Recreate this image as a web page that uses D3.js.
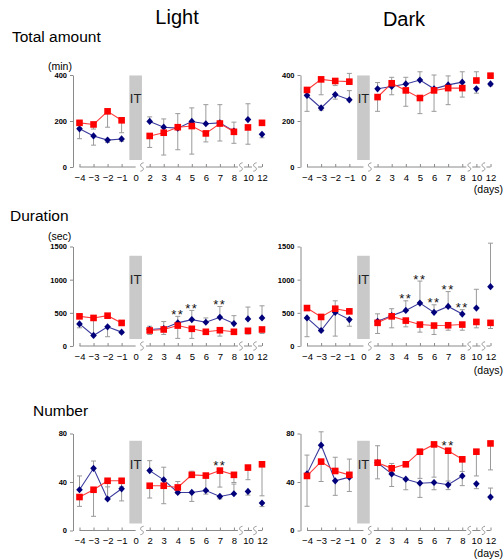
<!DOCTYPE html>
<html><head><meta charset="utf-8">
<script src="https://cdn.jsdelivr.net/npm/d3@7/dist/d3.min.js"></script>
<style>
body{margin:0;background:#fff}
svg{display:block}
text{font-family:"Liberation Sans",Arial,sans-serif}
</style>
</head><body>
<svg id="c" width="504" height="560"></svg>
<script>
// ---------- DATA ----------
const axisDays = ["-4","-3","-2","-1","0","2","3","4","5","6","7","8","10","12"];
const axisLabels = ["\u22124","\u22123","\u22122","\u22121","0","2","3","4","5","6","7","8","10","12"];
const dataDays = ["-4","-3","-2","-1","2","3","4","5","6","7","8","10","12"];
const connectedRuns = [["-4","-3","-2","-1"],["2","3","4","5","6","7","8"]];

const totalTicks = [0,200,400];
const durationTicks = [0,500,1000,1500];
const numberTicks = [0,40,80];

// Total amount (min)
const lightTotalBlue   = [166,135,117,122,198,173,169,198,188,192,156,206,142];
const lightTotalRed    = [192,185,242,203,135,149,173,178,146,189,153,172,192];
const lightTotalBlueSD = [-43,-40,-10,-10,20,36,63,59,83,79,39,69,-15];
const lightTotalRedSD  = [-20,-20,-69,-54,-50,-97,-98,-122,-37,-76,-50,-73,10];

const darkTotalBlue   = [311,257,315,292,340,350,361,378,340,357,369,340,361];
const darkTotalRed    = [335,381,374,371,304,364,333,300,333,343,343,376,397];
const darkTotalBlueSD = [-69,-10,-20,40,27,-36,29,36,60,39,45,-19,-8];
const darkTotalRedSD  = [-20,-67,-20,36,-62,26,-69,-68,-91,-72,-39,38,10];

// Duration (sec)
const lightDurBlue   = [333,159,289,209,249,264,349,398,358,433,338,408,423];
const lightDurRed    = [447,423,457,348,234,249,308,259,214,238,214,229,249];
const lightDurBlueSD = [-59,250,-149,-20,49,104,98,139,65,163,119,179,183];
const lightDurRedSD  = [25,-20,-20,-40,-60,-75,-193,-144,-40,-89,-40,-50,-60];

const darkDurBlue   = [423,234,507,398,373,457,537,647,507,596,482,572,894];
const darkDurRed    = [572,438,562,522,349,447,383,323,308,313,323,363,349];
const darkDurBlueSD = [-283,-20,-358,-100,112,105,144,332,114,224,65,283,656];
const darkDurRedSD  = [20,-200,119,40,-160,-173,-94,-114,-134,-75,-85,-89,-85];

// Number
const lightNumBlue   = [33.6,51.3,26,34.4,49.4,41.8,31.4,31.4,33,28.1,30.3,32.2,22.7];
const lightNumRed    = [27.6,33.6,41,41,36.9,36.9,35.5,45.9,45.3,49.4,45.9,51.9,54.6];
const lightNumBlueSD = [11.4,6,10,-10,8.2,10.4,-1,-7.4,-3,-2,8,-3,-3];
const lightNumRedSD  = [-7.7,-21.9,-14,-5,-10.1,-14.8,4.9,3,-12,-13.6,-6.3,-10,-26];

const darkNumBlue   = [46.7,70.4,41,44,55.9,46.7,42.3,39,39.6,37.7,45,38.5,27.6];
const darkNumRed    = [45,56.8,49.1,45.9,55.9,51.3,54.6,65,71,65.8,58.7,65,71.8];
const darkNumBlueSD = [15.5,11,-12,-11.8,-13.3,-10.4,-8.7,-11.7,-6,-4,-8,-4,7.4];
const darkNumRedSD  = [-25,-16.4,11.3,13,14,4,2,-22,-27,-25,-10,-20,-21.8];

const lightDurStars = ["4","5","7"];
const darkDurStars  = ["4","5","6","7","8"];
const lightNumStars = ["7"];
const darkNumStars  = ["7"];

// ---------- LAYOUT ----------
const svg = d3.select("#c");
const cols = [
  {x0:79.5, x1:262, yAxisX:73},
  {x0:307, x1:490.5, yAxisX:300.5}
];
const rows = [
  {y0:167, yTop:75, max:400, ticks:totalTicks, barTop:398, unit:"(min)", unitY:70, daysY:193},
  {y0:346, yTop:246.5, max:1500, ticks:durationTicks, barTop:1360, unit:"(sec)", unitY:240, daysY:374},
  {y0:530.5, yTop:433.5, max:80, ticks:numberTicks, barTop:74, unit:null, unitY:0, daysY:557}
];

const panels = [
  {c:0,r:0,blue:lightTotalBlue,red:lightTotalRed,bsd:lightTotalBlueSD,rsd:lightTotalRedSD,stars:[]},
  {c:1,r:0,blue:darkTotalBlue,red:darkTotalRed,bsd:darkTotalBlueSD,rsd:darkTotalRedSD,stars:[]},
  {c:0,r:1,blue:lightDurBlue,red:lightDurRed,bsd:lightDurBlueSD,rsd:lightDurRedSD,stars:lightDurStars},
  {c:1,r:1,blue:darkDurBlue,red:darkDurRed,bsd:darkDurBlueSD,rsd:darkDurRedSD,stars:darkDurStars},
  {c:0,r:2,blue:lightNumBlue,red:lightNumRed,bsd:lightNumBlueSD,rsd:lightNumRedSD,stars:lightNumStars},
  {c:1,r:2,blue:darkNumBlue,red:darkNumRed,bsd:darkNumBlueSD,rsd:darkNumRedSD,stars:darkNumStars}
];

const BLUE = "#00007a", BLUE_LINE = "#3b3b9e", RED = "#ff0000", RED_LINE = "#ff3b3b";
const AXIS = "#8a8a8a", ERR = "#9a9a9a";

// Titles
svg.append("text").attr("x",177).attr("y",23.5).attr("text-anchor","middle").attr("font-size",20).text("Light");
svg.append("text").attr("x",404).attr("y",26).attr("text-anchor","middle").attr("font-size",20).text("Dark");
svg.append("text").attr("x",12).attr("y",42).attr("font-size",15.5).text("Total amount");
svg.append("text").attr("x",10).attr("y",221).attr("font-size",15.5).text("Duration");
svg.append("text").attr("x",33).attr("y",416).attr("font-size",15.5).text("Number");

const breakPath = "M1.6,-4.2 C-2.6,-3.6 -1.6,-0.4 0,0 C1.6,0.4 2.6,3.6 -1.6,4.2";

panels.forEach(p => {
  const col = cols[p.c], row = rows[p.r];
  const g = svg.append("g");
  const x = d3.scalePoint().domain(axisDays).range([col.x0, col.x1]);
  const step = x.step();
  const y = d3.scaleLinear().domain([0,row.max]).range([row.y0,row.yTop]);

  // IT bar
  g.append("rect").attr("x",x("0")-6.3).attr("width",12.6)
    .attr("y",y(row.barTop)).attr("height",(row.y0-7)-y(row.barTop))
    .attr("fill","#c9c9c9");
  g.append("text").attr("x",x("0")).attr("y",y(row.barTop)+28).attr("text-anchor","middle")
    .attr("font-size",13).attr("fill","#222").text("IT");

  // Y axis
  const ya = g.append("g").attr("transform",`translate(${col.yAxisX},0)`)
    .call(d3.axisLeft(y).tickValues(row.ticks).tickFormat(d3.format("d"))
      .tickSizeInner(3).tickSizeOuter(0).tickPadding(3));
  ya.select(".domain").attr("stroke",AXIS);
  ya.selectAll(".tick line").attr("stroke",AXIS);
  ya.selectAll(".tick text").attr("font-size",7.5).attr("font-weight","bold").attr("fill","#000")
    .attr("font-family","'Liberation Sans',Arial,sans-serif");

  // X axis (ticks + labels), line drawn in broken segments
  const xa = g.append("g").attr("transform",`translate(0,${row.y0})`)
    .call(d3.axisBottom(x).tickSizeInner(-3).tickSizeOuter(0).tickPadding(6.8)
      .tickFormat((d,i)=>axisLabels[i]));
  xa.select(".domain").remove();
  xa.selectAll(".tick line").attr("stroke",AXIS).attr("opacity",d=>d==="0"?0:1);
  xa.selectAll(".tick text").attr("font-size",9.5).attr("fill","#000")
    .attr("font-family","'Liberation Sans',Arial,sans-serif");

  const b1 = x("0")+step*0.45, b2 = x("8")+step*0.5, b3 = x("10")+step*0.5;
  const segs = [[x("-4"),x("0")],[b1+4,b2-3],[b2+3,b3-3],[b3+3,x("12")]];
  segs.forEach(s=>{
    g.append("line").attr("x1",s[0]).attr("x2",s[1]).attr("y1",row.y0).attr("y2",row.y0)
      .attr("stroke",AXIS).attr("stroke-width",1);
  });
  [b1,b2,b3].forEach(bx=>{
    g.append("path").attr("d",breakPath).attr("transform",`translate(${bx},${row.y0})`)
      .attr("fill","none").attr("stroke",AXIS).attr("stroke-width",0.9);
  });

  // unit label and (days)
  if (p.c===0 && row.unit) {
    g.append("text").attr("x",col.yAxisX-25).attr("y",row.unitY).attr("font-size",10.5).text(row.unit);
  }
  if (p.c===1) {
    g.append("text").attr("x",503).attr("y",row.daysY).attr("text-anchor","end").attr("font-size",10.5).text("(days)");
  }

  const series = [
    {vals:p.blue, sd:p.bsd, color:BLUE, line:BLUE_LINE, kind:"diamond"},
    {vals:p.red, sd:p.rsd, color:RED, line:RED_LINE, kind:"square"}
  ];

  // error bars
  series.forEach(s=>{
    dataDays.forEach((d,i)=>{
      const v = s.vals[i], e = v + s.sd[i];
      g.append("line").attr("x1",x(d)).attr("x2",x(d)).attr("y1",y(v)).attr("y2",y(e))
        .attr("stroke",ERR).attr("stroke-width",1);
      g.append("line").attr("x1",x(d)-2.5).attr("x2",x(d)+2.5).attr("y1",y(e)).attr("y2",y(e))
        .attr("stroke",ERR).attr("stroke-width",1);
    });
  });

  // lines
  const line = d3.line().x(d=>x(d[0])).y(d=>y(d[1]));
  series.forEach(s=>{
    connectedRuns.forEach(run=>{
      const pts = run.map(d=>[d, s.vals[dataDays.indexOf(d)]]);
      g.append("path").attr("d",line(pts)).attr("fill","none").attr("stroke",s.line).attr("stroke-width",1.1);
    });
  });

  // markers
  series.forEach(s=>{
    dataDays.forEach((d,i)=>{
      const cx = x(d), cy = y(s.vals[i]);
      if (s.kind==="square") {
        g.append("rect").attr("x",cx-3.3).attr("y",cy-3.3).attr("width",6.6).attr("height",6.6).attr("fill",s.color);
      } else {
        g.append("path").attr("d","M0,-3.6L3.3,0L0,3.6L-3.3,0Z").attr("transform",`translate(${cx},${cy})`).attr("fill",s.color);
      }
    });
  });

  // significance stars
  p.stars.forEach(d=>{
    const i = dataDays.indexOf(d);
    let errTop = -Infinity, markTop = -Infinity;
    series.forEach(s=>{
      errTop = Math.max(errTop, s.vals[i]+s.sd[i]);
      markTop = Math.max(markTop, s.vals[i]);
    });
    const center = Math.min(y(errTop)-5, y(markTop)-8.5);
    g.append("text").attr("x",x(d)).attr("y",center+7.5).attr("text-anchor","middle")
      .attr("font-size",13).attr("letter-spacing",1.5).attr("fill","#111").text("**");
  });
});
</script>
</body></html>
